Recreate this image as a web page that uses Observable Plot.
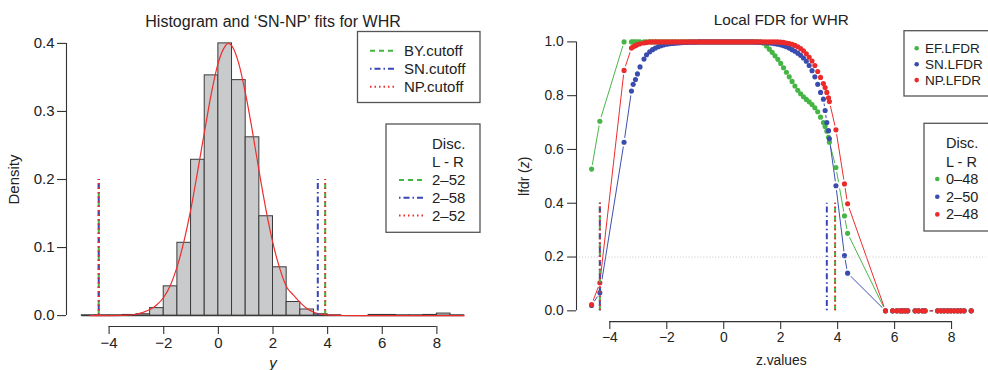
<!DOCTYPE html>
<html><head><meta charset="utf-8">
<script src="https://cdn.jsdelivr.net/npm/d3@7"></script>
<script src="https://cdn.jsdelivr.net/npm/@observablehq/plot@0.6"></script>
<style>
body{margin:0;background:#fff;overflow:hidden;font-family:"Liberation Sans",Arial,sans-serif}
#wrap{position:relative;width:988px;height:370px;overflow:hidden;background:#fff}
#left{position:absolute;left:0;top:0}
#right{position:absolute;left:494px;top:0}
#legend{position:absolute;left:0;top:0}
</style></head><body>
<div id="wrap"><div id="left"></div><div id="right"></div><svg id="legend" width="988" height="370"></svg></div>
<script>
// ---------------- data ----------------
const titleLeft = "Histogram and \u2018SN-NP\u2019 fits for WHR";
const titleRight = "Local FDR for WHR";
const binEdges = [-5,-4.5,-4,-3.5,-3,-2.5,-2,-1.5,-1,-0.5,0,0.5,1,1.5,2,2.5,3,3.5,4,4.5,5,5.5,6,6.5,7,7.5,8,8.5,9];
const binDensity = [0.0005,0.0005,0.0005,0.001,0.002,0.011,0.043,0.107,0.229,0.353,0.400,0.346,0.262,0.146,0.071,0.020,0.009,0.002,0.0005,0,0,0.001,0.001,0.0005,0.0005,0.001,0.003,0.0005];
const curveX = [-4.7,-4,-3.5,-3,-2.75,-2.5,-2.25,-2,-1.75,-1.5,-1.25,-1,-0.75,-0.5,-0.25,0,0.25,0.35,0.5,0.75,1,1.25,1.5,1.75,2,2.25,2.5,2.75,3,3.25,3.5,3.75,4,4.5,5,6,7,8,9];
const curveY = [0,0.0001,0.0004,0.002,0.005,0.009,0.016,0.027,0.045,0.073,0.111,0.158,0.214,0.272,0.328,0.372,0.396,0.400,0.396,0.370,0.325,0.270,0.210,0.154,0.106,0.069,0.042,0.030,0.019,0.010,0.005,0.002,0.001,0.0002,0,0,0,0,0];
const cutoffNames = ["BY.cutoff","SN.cutoff","NP.cutoff"];
const histCutLow = [-4.38,-4.38,-4.38];
const histCutHigh = [3.91,3.64,3.91];
const histCutHeight = 0.2;
const discLeft = ["2\u201352","2\u201358","2\u201352"];

const zValues = [-4.64,-4.35,-3.50,-3.24,-3.18,-3.10,-3.03,-2.94,-2.80,-2.71,
 -2.6,-2.5,-2.4,-2.3,-2.2,-2.1,-2.0,-1.9,-1.8,-1.7,-1.6,-1.5,-1.4,-1.3,-1.2,-1.1,-1.0,-0.9,-0.8,-0.7,-0.6,-0.5,-0.4,-0.3,-0.2,-0.1,
 0.0,0.1,0.2,0.3,0.4,0.5,0.6,0.7,0.8,0.9,1.0,1.1,1.2,1.3,1.4,1.5,1.6,1.7,1.8,1.9,2.0,2.1,2.2,2.3,2.4,2.5,2.6,2.7,2.8,2.9,3.0,3.1,3.2,3.3,3.4,
 3.50,3.56,3.62,3.68,3.71,3.94,4.24,4.35,
 5.68,5.93,6.08,6.20,6.28,6.37,6.46,6.72,6.84,6.98,7.07,7.51,7.63,7.74,7.86,7.97,8.09,8.21,8.32,8.44,8.69];
const efLfdr = [0.527,0.705,1,1,1,1,1,1,1,1,
 1,1,1,1,1,1,1,1,1,1,1,1,1,1,1,1,1,1,1,1,1,1,1,1,1,1,
 1,1,1,1,1,1,1,1,1,1,1,1,1,1,0.995,0.985,0.973,0.961,0.948,0.935,0.920,0.904,0.887,0.870,0.853,0.836,0.820,0.807,0.796,0.786,0.777,0.767,0.755,0.740,0.720,
 0.700,0.685,0.668,0.645,0.627,0.533,0.353,0.288,
 0,0,0,0,0,0,0,0,0,0,0,0,0,0,0,0,0,0,0,0,0];
const snLfdr = [0.020,0.067,0.627,0.817,0.842,0.860,0.881,0.907,0.936,0.952,
 0.963,0.971,0.977,0.982,0.986,0.989,0.991,0.993,0.994,0.995,0.996,0.997,0.998,0.998,0.999,0.999,0.999,1,1,1,1,1,1,1,1,1,
 1,1,1,1,1,1,1,1,1,1,1,0.999,0.999,0.998,0.998,0.997,0.996,0.995,0.993,0.991,0.989,0.986,0.982,0.977,0.971,0.965,0.958,0.950,0.940,0.928,0.912,0.893,0.870,0.842,0.812,
 0.787,0.745,0.700,0.670,0.640,0.465,0.205,0.140,
 0,0,0,0,0,0,0,0,0,0,0,0,0,0,0,0,0,0,0,0,0];
const npLfdr = [0.023,0.104,0.894,0.977,0.982,0.986,0.990,0.993,0.996,0.998,
 1,1,1,1,1,1,1,1,1,1,1,1,1,1,1,1,1,1,1,1,1,1,1,1,1,1,
 1,1,1,1,1,1,1,1,1,1,1,1,1,1,1,1,1,1,1,1,0.999,0.998,0.996,0.994,0.991,0.987,0.982,0.975,0.967,0.956,0.943,0.929,0.912,0.890,0.868,
 0.845,0.830,0.812,0.792,0.778,0.673,0.472,0.398,
 0,0,0,0,0,0,0,0,0,0,0,0,0,0,0,0,0,0,0,0,0];
const lfdrNames = ["EF.LFDR","SN.LFDR","NP.LFDR"];
const lfdrCutLow = [-4.35,-4.35,-4.35];
const lfdrCutHigh = [3.91,3.62,3.91];
const lfdrCutHeight = 0.4;
const lfdrThreshold = 0.2;
const discRight = ["0\u201348","2\u201350","2\u201348"];

const xTicks = [-4,-2,0,2,4,6,8];
const yTicksLeft = [0,0.1,0.2,0.3,0.4];
const yTicksRight = [0,0.2,0.4,0.6,0.8,1.0];

// ---------------- styles ----------------
const GREEN = "#3fb83f", BLUE = "#3846b8", RED = "#ef2d2d";
const ptGREEN = "#45b545", ptBLUE = "#3a4dae", ptRED = "#ec2a2a";
const cutStyles = [
  {stroke: GREEN, dash: "5,4"},
  {stroke: BLUE, dash: "1.5,3,6,3"},
  {stroke: RED, dash: "1.5,3"}
];
const FONT = "'Liberation Sans', Arial, Helvetica, sans-serif";
const INK = "#222";
const AX = "#333";

// ---------------- left panel ----------------
const xDomL = [-5.56, 9.56], yDomL = [-0.016, 0.416];
const bins = binDensity.map((d, i) => ({x1: binEdges[i], x2: binEdges[i + 1], y: d}));
const curve = curveX.map((x, i) => ({x, y: curveY[i]}));

const left = Plot.plot({
  width: 494, height: 370,
  marginLeft: 66, marginRight: 15, marginTop: 32, marginBottom: 44,
  x: {domain: xDomL}, y: {domain: yDomL},
  style: {fontFamily: FONT, fontSize: "15px", color: INK, background: "transparent", overflow: "visible"},
  marks: [
    Plot.rect(bins.filter(d => d.y > 0), {x1: "x1", x2: "x2", y1: 0, y2: "y", fill: "#c9cacb", stroke: "#3a3a3a", strokeWidth: 1}),
    Plot.ruleY([0], {y: d => d, x1: binEdges[0], x2: binEdges[binEdges.length - 1], stroke: "#3a3a3a", strokeWidth: 1.2}),
    Plot.line(curve, {x: "x", y: "y", stroke: RED, strokeWidth: 1.2, curve: "monotone-x"}),
    ...cutoffNames.map((n, i) => Plot.ruleX([histCutLow[i], histCutHigh[i]], {x: d => d, y1: 0, y2: histCutHeight, stroke: cutStyles[i].stroke, strokeWidth: 2, strokeDasharray: cutStyles[i].dash})),
    Plot.ruleX([xDomL[0]], {x: d => d, y1: yTicksLeft[0], y2: yTicksLeft[yTicksLeft.length - 1], stroke: AX, strokeWidth: 1.1}),
    Plot.ruleY([yDomL[0]], {y: d => d, x1: xTicks[0], x2: xTicks[xTicks.length - 1], stroke: AX, strokeWidth: 1.1}),
    Plot.axisY({ticks: yTicksLeft, tickFormat: d3.format(".1f"), tickSize: 9, tickPadding: 3, stroke: AX, strokeWidth: 1.1, label: "Density", labelAnchor: "center", labelOffset: 58, labelArrow: "none"}),
    Plot.axisX({ticks: xTicks, tickSize: 8, tickPadding: 3, stroke: AX, strokeWidth: 1.1, label: "y", labelAnchor: "center", labelOffset: 41, labelArrow: "none"}),
    Plot.text([titleLeft], {text: d => d, frameAnchor: "top", dy: -11, lineAnchor: "middle", fontSize: 16, fill: INK})
  ]
});
document.getElementById("left").appendChild(left);
{
  const t = left.querySelector('[aria-label="x-axis label"] text');
  if (t) t.setAttribute("font-style", "italic");
}

// ---------------- right panel ----------------
const xDomR = [-5.17, 9.21], yDomR = [-0.04, 1.04];
const series = [
  {name: lfdrNames[0], values: efLfdr, color: ptGREEN},
  {name: lfdrNames[1], values: snLfdr, color: ptBLUE},
  {name: lfdrNames[2], values: npLfdr, color: ptRED}
];
const pts = s => zValues.map((z, i) => ({z, v: s.values[i]}));

const right = Plot.plot({
  width: 500, height: 370,
  marginLeft: 83, marginRight: 2.5, marginTop: 31, marginBottom: 45,
  x: {domain: xDomR}, y: {domain: yDomR},
  style: {fontFamily: FONT, fontSize: "14px", color: INK, background: "transparent", overflow: "visible"},
  marks: [
    ...series.flatMap(s => [
      Plot.line(pts(s), {x: "z", y: "v", stroke: s.color, strokeWidth: 1}),
      Plot.dot(pts(s), {x: "z", y: "v", r: 4.5, fill: "white"})
    ]),
    ...series.map(s => Plot.dot(pts(s), {x: "z", y: "v", r: 2.6, fill: s.color})),
    Plot.ruleY([lfdrThreshold], {stroke: "#c4c4c4", strokeDasharray: "1,2"}),
    ...lfdrNames.map((n, i) => Plot.ruleX([lfdrCutLow[i], lfdrCutHigh[i]], {x: d => d, y1: 0, y2: lfdrCutHeight, stroke: cutStyles[i].stroke, strokeWidth: 2, strokeDasharray: cutStyles[i].dash})),
    Plot.ruleX([xDomR[0]], {x: d => d, y1: yTicksRight[0], y2: yTicksRight[yTicksRight.length - 1], stroke: AX, strokeWidth: 1.1}),
    Plot.ruleY([yDomR[0]], {y: d => d, x1: xTicks[0], x2: xTicks[xTicks.length - 1], stroke: AX, strokeWidth: 1.1}),
    Plot.axisY({ticks: yTicksRight, tickFormat: d3.format(".1f"), tickSize: 9, tickPadding: 4, stroke: AX, strokeWidth: 1.1, label: "lfdr (z)", labelAnchor: "center", labelOffset: 58, labelArrow: "none"}),
    Plot.axisX({ticks: xTicks, tickSize: 8, tickPadding: 3, stroke: AX, strokeWidth: 1.1, label: "z.values", labelAnchor: "center", labelOffset: 44, labelArrow: "none"}),
    Plot.text([titleRight], {text: d => d, frameAnchor: "top", dy: -11, lineAnchor: "middle", fontSize: 15.5, fill: INK})
  ]
});
document.getElementById("right").appendChild(right);
{
  const t = right.querySelector('[aria-label="y-axis label"] text');
  if (t) {
    t.textContent = "lfdr (";
    const ts = document.createElementNS("http://www.w3.org/2000/svg", "tspan");
    ts.setAttribute("font-style", "italic");
    ts.textContent = "z";
    t.appendChild(ts);
    t.appendChild(document.createTextNode(")"));
  }
}

// ---------------- legends (overlay) ----------------
const lg = d3.select("#legend").style("font-family", FONT).attr("fill", INK);
function box(x, y, w, h) {
  lg.append("rect").attr("x", x).attr("y", y).attr("width", w).attr("height", h)
    .attr("fill", "white").attr("stroke", "#555").attr("stroke-width", 1.3);
}
function lineKey(x1, x2, y, st) {
  lg.append("line").attr("x1", x1).attr("x2", x2).attr("y1", y).attr("y2", y)
    .attr("stroke", st.stroke).attr("stroke-width", 2).attr("stroke-dasharray", st.dash);
}
function label(x, y, t, size) {
  lg.append("text").attr("x", x).attr("y", y).attr("dy", "0.35em").attr("font-size", size).text(t);
}
// left legend 1
box(357.5, 31.5, 122.5, 71);
cutoffNames.forEach((n, i) => { lineKey(370, 394, 50.7 + i * 18, cutStyles[i]); label(404, 50.7 + i * 18, n, 15); });
// left legend 2
box(386, 124, 94, 108.3);
label(432, 144, "Disc.", 15);
label(432, 162, "L - R", 15);
discLeft.forEach((t, i) => { lineKey(399, 425, 180 + i * 17.7, cutStyles[i]); label(432, 180 + i * 17.7, t, 15); });
// right legend 1
const ptCols = [ptGREEN, ptBLUE, ptRED];
box(904, 30.7, 90, 65.3);
lfdrNames.forEach((n, i) => {
  lg.append("circle").attr("cx", 916.7).attr("cy", 48.3 + i * 15.9).attr("r", 2.3).attr("fill", ptCols[i]);
  label(925, 48.3 + i * 15.9, n, 13.5);
});
// right legend 2
box(924, 123.3, 70, 107.7);
label(946, 143.3, "Disc.", 14.5);
label(946, 161.7, "L - R", 14.5);
discRight.forEach((t, i) => {
  lg.append("circle").attr("cx", 937.3).attr("cy", 179 + i * 17.7).attr("r", 2.3).attr("fill", ptCols[i]);
  label(946, 179 + i * 17.7, t, 14.5);
});
</script>
</body></html>
